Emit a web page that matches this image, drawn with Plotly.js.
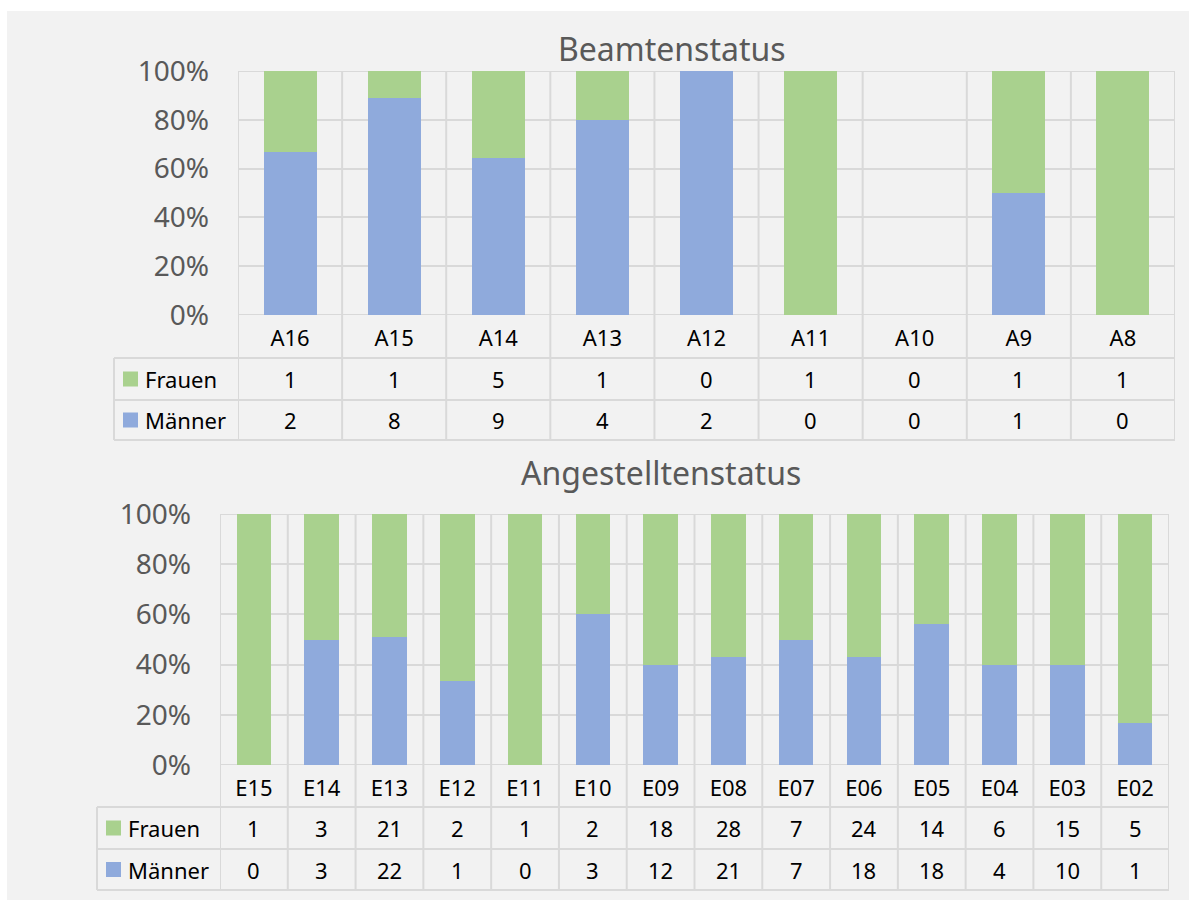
<!DOCTYPE html>
<html>
<head>
<meta charset="utf-8">
<script src="https://cdn.plot.ly/plotly-3.0.1.min.js"></script>
<style>html,body{margin:0;padding:0;background:#fff;}#chart{width:1189px;height:900px;}</style>
</head>
<body>
<div id="chart"></div>
<script>
// ---- data ----
const seriesNames = ['Frauen', 'Männer'];
const catsA = ['A16', 'A15', 'A14', 'A13', 'A12', 'A11', 'A10', 'A9', 'A8'];
const frauenA = [1, 1, 5, 1, 0, 1, 0, 1, 1];
const maennerA = [2, 8, 9, 4, 2, 0, 0, 1, 0];
const catsE = ['E15', 'E14', 'E13', 'E12', 'E11', 'E10', 'E09', 'E08', 'E07', 'E06', 'E05', 'E04', 'E03', 'E02'];
const frauenE = [1, 3, 21, 2, 1, 2, 18, 28, 7, 24, 14, 6, 15, 5];
const maennerE = [0, 3, 22, 1, 0, 3, 12, 21, 7, 18, 18, 4, 10, 1];
const titles = ['Beamtenstatus', 'Angestelltenstatus'];
const yTicks = [0, 20, 40, 60, 80, 100];

// ---- styling ----
const W = 1189, H = 900;
const px = x => x / W;
const py = y => 1 - y / H;
const GREEN = '#a9d18e', BLUE = '#8faadc', GRID = '#d9d9d9', BG = '#f2f2f2';
const FONT = 'Noto Sans, Open Sans, sans-serif';

const panels = [
  {cats: catsA, fr: frauenA, ma: maennerA, title: titles[0], xa: 'x', ya: 'y',
   left: 114, plotL: 238, plotR: 1175, plotT: 71, plotB: 315, rows: [358, 400, 440],
   titleX: 672, titleY: 48, keyX: 123, textX: 143},
  {cats: catsE, fr: frauenE, ma: maennerE, title: titles[1], xa: 'x2', ya: 'y2',
   left: 97, plotL: 220, plotR: 1169, plotT: 514, plotB: 765, rows: [807, 849, 890],
   titleX: 661, titleY: 472, keyX: 106, textX: 126}
];

const traces = [];
const shapes = [{type: 'rect', xref: 'paper', yref: 'paper', x0: px(7), x1: 1, y0: 0, y1: py(11),
  fillcolor: BG, line: {width: 0}, layer: 'below'}];
const annotations = [];
const layout = {
  width: W, height: H, margin: {l: 0, r: 0, t: 0, b: 0},
  paper_bgcolor: '#ffffff', plot_bgcolor: 'rgba(0,0,0,0)',
  barmode: 'stack', barnorm: 'percent', bargap: 0.49, showlegend: false,
  font: {family: FONT}, shapes: shapes, annotations: annotations
};

panels.forEach((p, k) => {
  const n = p.cats.length;
  traces.push({type: 'bar', name: seriesNames[1], x: p.cats, y: p.ma, xaxis: p.xa, yaxis: p.ya,
    marker: {color: BLUE, line: {width: 0}}, hoverinfo: 'x+y+name'});
  traces.push({type: 'bar', name: seriesNames[0], x: p.cats, y: p.fr, xaxis: p.xa, yaxis: p.ya,
    marker: {color: GREEN, line: {width: 0}}, hoverinfo: 'x+y+name'});

  const xk = k === 0 ? 'xaxis' : 'xaxis2';
  const yk = k === 0 ? 'yaxis' : 'yaxis2';
  layout[xk] = {domain: [px(p.plotL), px(p.plotR)], anchor: p.ya, type: 'category',
    range: [-0.5, n - 0.5], showgrid: false, zeroline: false, showline: false, ticks: '',
    tickfont: {size: 22, color: '#000000', family: FONT}, ticklabelstandoff: 8, fixedrange: true};
  layout[yk] = {domain: [py(p.plotB), py(p.plotT)], anchor: p.xa, range: [0, 100],
    tickvals: yTicks, ticktext: yTicks.map(v => v + '%'), showgrid: true, gridcolor: GRID, gridwidth: 2,
    zeroline: false, showline: false, ticks: '',
    tickfont: {size: 28, color: '#595959', family: FONT}, ticklabelstandoff: 28, fixedrange: true};

  const line = {color: GRID, width: 2};
  // vertical separators (category boundaries), plot + table
  for (let i = 0; i <= n; i++) {
    shapes.push({type: 'line', xref: p.xa, yref: 'paper', x0: i - 0.5, x1: i - 0.5,
      y0: py(p.plotT), y1: py(p.rows[2]), line: line, layer: 'above'});
  }
  // plot top and bottom
  [0, 100].forEach(v => shapes.push({type: 'line', xref: p.xa, yref: p.ya, x0: -0.5, x1: n - 0.5,
    y0: v, y1: v, line: line, layer: 'below'}));
  // table rows
  p.rows.forEach(r => shapes.push({type: 'line', xref: 'paper', yref: 'paper', x0: px(p.left), x1: px(p.plotR),
    y0: py(r), y1: py(r), line: line}));
  // left border of row header column
  shapes.push({type: 'line', xref: 'paper', yref: 'paper', x0: px(p.left), x1: px(p.left),
    y0: py(p.rows[0]), y1: py(p.rows[2]), line: line});

  // title
  annotations.push({xref: 'paper', yref: 'paper', x: px(p.titleX), y: py(p.titleY), text: p.title,
    showarrow: false, xanchor: 'center', yanchor: 'middle', font: {size: 32, color: '#595959', family: FONT}});

  const rowC = [(p.rows[0] + p.rows[1]) / 2, (p.rows[1] + p.rows[2]) / 2];
  const rowData = [p.fr, p.ma];
  const rowColors = [GREEN, BLUE];
  rowC.forEach((c, j) => {
    shapes.push({type: 'rect', xref: 'paper', yref: 'paper', x0: px(p.keyX), x1: px(p.keyX + 15),
      y0: py(c + 7.5), y1: py(c - 7.5), fillcolor: rowColors[j], line: {width: 0}});
    annotations.push({xref: 'paper', yref: 'paper', x: px(p.textX), y: py(c), text: seriesNames[j],
      showarrow: false, xanchor: 'left', yanchor: 'middle', font: {size: 22, color: '#000000', family: FONT}});
    p.cats.forEach((cat, i) => {
      annotations.push({xref: p.xa, yref: 'paper', x: cat, y: py(c), text: String(rowData[j][i]),
        showarrow: false, xanchor: 'center', yanchor: 'middle', font: {size: 22, color: '#000000', family: FONT}});
    });
  });
});

Plotly.newPlot('chart', traces, layout, {displayModeBar: false, staticPlot: true});
</script>
</body>
</html>
